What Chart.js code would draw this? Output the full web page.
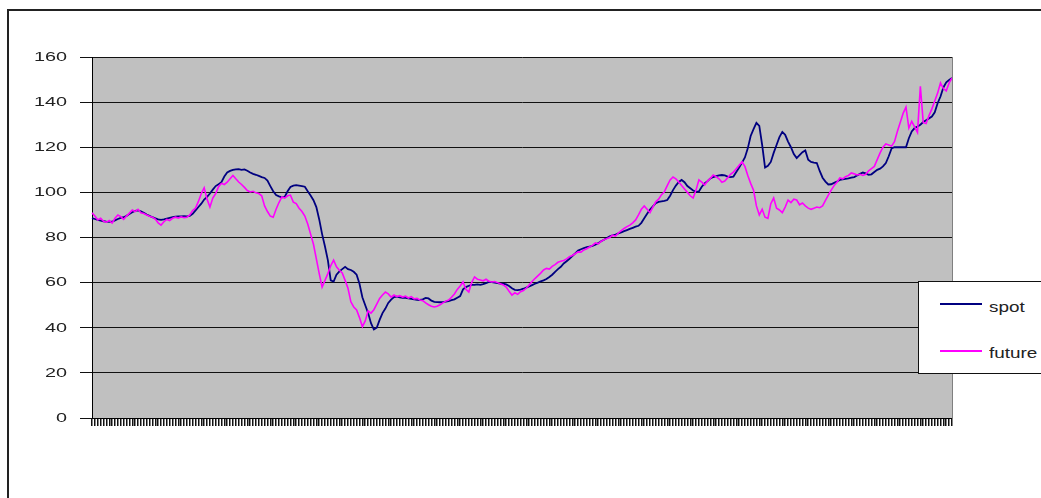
<!DOCTYPE html>
<html>
<head>
<meta charset="utf-8">
<script src="https://cdn.jsdelivr.net/npm/chart.js@4.4.1/dist/chart.umd.min.js"></script>
<style>
  html, body { margin: 0; padding: 0; background: #fff; overflow: hidden; }
  #wrap { position: relative; width: 1041px; height: 498px; overflow: hidden; }
  #frame { position: absolute; left: 7px; top: 9px; width: 1200px; height: 700px;
           border-top: 2px solid #222; border-left: 2px solid #222; }
  #c { position: absolute; left: 0; top: 0; }
  #legend { position: absolute; left: 918px; top: 281px; width: 150px; height: 91px;
            border: 1px solid #111; background: #fff; }
  .lline { position: absolute; width: 42px; height: 1.5px; }
  .ltext { position: absolute; font-family: "Liberation Sans", Arial, sans-serif; font-size: 14px;
           color: #222; transform: scaleX(1.35); transform-origin: 0 50%; line-height: 14px; }
</style>
</head>
<body>
<div id="wrap">
  <div id="frame"></div>
  <canvas id="c" width="1041" height="498"></canvas>
  <div id="legend"></div>
</div>
<script>
// ---- data ----
const seriesNames = ['spot', 'future'];
const seriesColors = ['#000080', '#ff00ff'];
const yTicks = [0, 20, 40, 60, 80, 100, 120, 140, 160];

const spot = [
88.6,88.2,87.8,87.5,87.2,87.0,86.9,87.0,87.6,88.2,
88.7,89.0,89.6,90.4,91.2,91.8,92.0,91.6,91.0,90.2,
89.6,89.0,88.5,88.0,87.8,88.0,88.4,88.7,89.0,89.2,
89.3,89.4,89.5,89.4,89.6,90.5,92.0,93.5,95.0,96.8,
98.0,99.5,101.2,102.8,103.6,104.5,107.0,108.8,109.5,110.0,
110.2,110.3,110.0,110.2,109.6,108.8,108.2,107.8,107.3,106.8,
106.4,105.2,102.8,100.5,98.8,98.2,97.8,98.0,100.5,102.4,
103.0,103.2,103.0,102.8,102.5,100.5,98.6,96.5,93.5,88.0,
81.5,76.0,70.0,61.0,60.5,63.5,65.0,66.0,67.0,66.0,
65.6,64.8,63.5,59.5,53.5,50.0,46.5,42.0,39.2,40.0,
43.5,46.5,48.5,51.0,52.5,53.6,53.8,53.5,53.3,53.2,
53.0,52.8,52.6,52.4,52.3,52.6,53.2,53.0,52.0,51.5,
51.4,51.3,51.4,51.6,51.8,52.2,52.6,53.3,54.0,57.0,
58.0,58.6,59.0,59.0,59.2,59.0,59.3,59.8,60.3,60.2,
60.0,59.8,59.6,59.5,59.2,58.5,57.5,56.8,56.7,56.9,
57.3,57.8,58.3,58.9,59.5,60.0,60.6,61.0,61.6,62.5,
63.5,64.8,66.0,67.0,68.5,69.5,70.6,71.8,73.0,74.2,
74.8,75.3,75.7,76.0,76.3,76.8,77.5,78.3,79.0,79.8,
80.5,81.0,81.3,81.8,82.3,82.8,83.3,83.8,84.3,84.8,
85.2,86.5,88.5,90.5,92.4,93.8,95.2,95.8,96.0,96.2,
96.6,98.5,101.0,103.0,104.6,105.5,104.5,102.8,101.8,100.8,
100.2,100.4,102.5,104.0,105.0,106.2,106.8,107.2,107.5,107.7,
107.5,107.0,106.8,107.0,109.0,111.0,113.2,115.5,119.5,125.0,
128.0,130.8,129.5,121.0,111.0,111.8,113.5,117.5,121.0,124.5,
126.8,125.5,122.5,120.0,117.0,115.2,116.5,117.8,118.6,114.5,
113.5,113.2,113.0,109.5,106.5,104.8,103.5,103.6,104.2,104.8,
105.5,105.8,106.0,106.2,106.5,106.8,107.5,108.2,108.8,108.4,
107.8,108.0,109.0,110.0,110.5,111.5,113.0,116.0,119.5,120.0,
120.0,120.0,120.0,120.0,124.0,127.0,128.5,129.2,130.0,131.2,
132.0,132.8,133.6,135.5,139.5,142.5,146.5,148.8,149.8,150.7
];

const future = [
90.9,89.5,87.8,88.5,87.2,86.8,87.5,86.4,88.5,90.0,
89.2,88.0,89.5,90.8,92.2,91.5,92.5,91.0,90.6,90.0,
89.4,89.0,88.2,86.5,85.5,87.0,88.0,87.5,88.5,89.0,
88.6,89.2,88.8,89.0,90.0,92.0,93.0,96.0,99.5,102.0,
97.0,93.5,97.5,99.5,102.5,104.0,103.5,104.5,106.0,107.5,
106.0,104.6,103.5,102.2,100.8,100.2,100.5,99.8,99.5,98.5,
94.0,91.5,89.5,89.0,92.5,95.5,98.0,97.5,98.5,98.8,
95.7,95.0,93.0,91.5,89.5,86.0,81.5,77.0,70.5,64.0,
58.0,61.0,64.0,67.5,70.0,67.0,65.5,64.3,61.0,57.5,
51.5,49.2,47.9,44.5,40.5,43.0,47.5,46.5,48.0,50.5,
53.0,54.5,55.8,55.0,53.6,54.5,53.8,54.2,53.6,54.0,
53.2,53.8,52.8,53.0,52.3,52.0,51.0,50.2,49.5,49.2,
49.5,50.2,51.0,51.8,52.3,53.5,55.0,57.0,58.5,60.3,
57.0,55.8,60.0,62.5,61.5,61.2,60.8,61.5,60.6,60.3,
60.5,60.0,59.5,59.0,58.0,56.2,54.5,55.5,54.8,56.0,
56.5,57.6,59.0,60.5,61.8,63.0,64.2,65.6,66.3,66.0,
67.2,68.0,69.0,69.5,69.8,70.5,71.5,72.0,72.8,73.6,
73.5,74.5,75.0,75.8,76.5,77.6,77.2,78.3,79.0,79.5,
80.0,81.0,80.6,82.0,83.0,84.0,84.8,85.5,86.5,87.8,
90.0,92.5,94.0,92.5,91.0,93.5,95.8,97.0,99.0,100.3,
103.0,105.5,106.8,106.0,104.6,103.0,101.5,100.0,98.5,97.5,
101.0,105.5,104.5,103.3,105.0,106.2,107.7,107.0,106.0,104.5,
105.0,106.5,108.0,109.0,110.5,112.0,113.5,111.5,107.5,104.0,
101.0,94.0,90.0,92.5,89.0,88.5,95.0,97.5,93.0,92.2,
91.0,93.5,96.6,95.5,97.0,96.6,94.5,95.3,94.0,93.0,
92.5,93.0,93.5,93.2,94.0,96.5,98.8,101.0,103.0,104.5,
106.4,106.0,107.0,107.5,108.6,108.2,107.7,108.0,107.5,108.0,
109.5,110.5,111.5,114.5,117.5,120.0,121.5,121.0,120.5,122.5,
127.0,131.0,135.0,137.8,128.5,131.5,129.0,126.5,147.0,131.0,
130.5,134.0,137.0,140.5,144.0,148.5,146.0,145.0,148.5,150.7
];

// one category per observation (period number)
const categories = spot.map((_, i) => String(i + 1));

// ---- legend (HTML) ----
const legend = document.getElementById('legend');
const legendRows = [{ lineTop: 21, textTop: 18 }, { lineTop: 68, textTop: 64 }];
seriesNames.forEach((name, k) => {
  const l = document.createElement('div');
  l.className = 'lline';
  l.style.left = '21px';
  l.style.top = legendRows[k].lineTop + 'px';
  l.style.background = seriesColors[k];
  legend.appendChild(l);
  const t = document.createElement('div');
  t.className = 'ltext';
  t.style.left = '70px';
  t.style.top = legendRows[k].textTop + 'px';
  t.textContent = name;
  legend.appendChild(t);
});

// ---- plugins ----
const plotBg = {
  id: 'plotBg',
  beforeDraw(chart) {
    const { ctx, chartArea: a } = chart;
    ctx.save();
    ctx.fillStyle = '#c0c0c0';
    ctx.fillRect(a.left, a.top, a.right - a.left, a.bottom - a.top);
    ctx.restore();
  },
  afterDraw(chart) {
    const { ctx, chartArea: a } = chart;
    ctx.save();
    ctx.strokeStyle = '#808080';
    ctx.lineWidth = 1;
    ctx.beginPath();
    ctx.moveTo(a.right + 0.5, a.top);
    ctx.lineTo(a.right + 0.5, a.bottom);
    ctx.stroke();
    // stretched y tick labels
    const s = chart.scales.y;
    ctx.font = '12px "Liberation Sans", Arial, sans-serif';
    ctx.fillStyle = '#222';
    ctx.textAlign = 'right';
    ctx.textBaseline = 'middle';
    const xr = a.left - 25;
    s.ticks.forEach((t, i) => {
      const y = s.getPixelForTick(i);
      ctx.save();
      ctx.translate(xr, y + 0.5);
      ctx.scale(1.65, 1);
      ctx.fillText(String(t.value), 0, 0);
      ctx.restore();
    });
    ctx.restore();
  }
};

new Chart(document.getElementById('c'), {
  type: 'line',
  data: {
    labels: categories,
    datasets: [
      { label: seriesNames[0], data: spot, borderColor: seriesColors[0], borderWidth: 1.8,
        pointRadius: 0, tension: 0, fill: false, order: 2 },
      { label: seriesNames[1], data: future, borderColor: seriesColors[1], borderWidth: 1.6,
        pointRadius: 0, tension: 0, fill: false, order: 1 }
    ]
  },
  options: {
    responsive: false,
    animation: false,
    events: [],
    layout: { padding: { left: 0, top: 57, right: 89, bottom: 0 } },
    plugins: { legend: { display: false }, tooltip: { enabled: false } },
    scales: {
      x: {
        type: 'category',
        offset: false,
        ticks: { display: false, autoSkip: false },
        grid: { drawOnChartArea: false, drawTicks: true, tickLength: 8, tickColor: '#111', lineWidth: 1.5 },
        border: { display: true, color: '#000', width: 1 },
        afterFit(scale) { scale.height = 80; }
      },
      y: {
        min: 0, max: 160,
        afterBuildTicks(scale) { scale.ticks = yTicks.map(v => ({ value: v })); },
        ticks: { display: false },
        grid: { color: '#111', lineWidth: 1, drawTicks: true, tickLength: 12, tickColor: '#111' },
        border: { display: true, color: '#000', width: 1 },
        afterFit(scale) { scale.width = 92; }
      }
    }
  },
  plugins: [plotBg]
});
</script>
</body>
</html>
